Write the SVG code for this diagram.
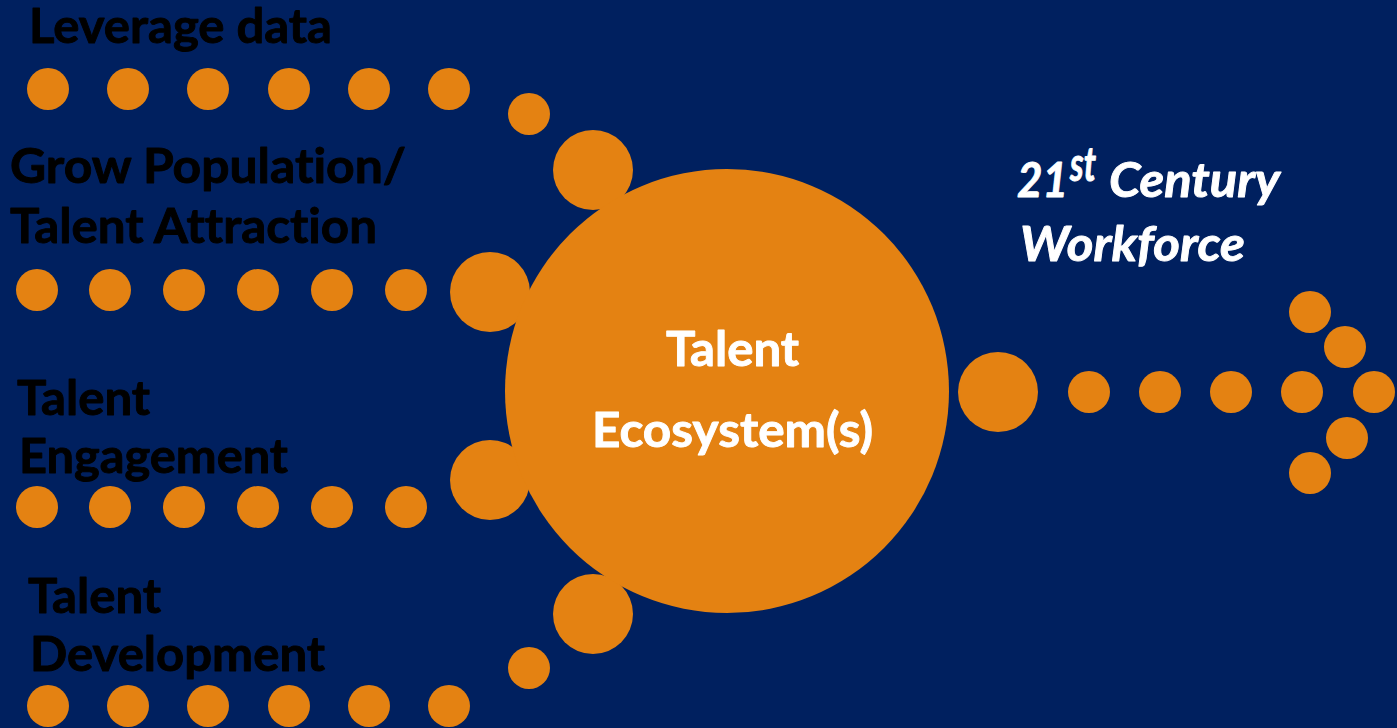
<svg xmlns="http://www.w3.org/2000/svg" width="1397" height="728" viewBox="0 0 1397 728">
  <style>
    .dot { fill: #E48212; }
    text { font-family: Lato, "Liberation Sans", sans-serif; font-weight: 700; font-size: 48px; font-variant-ligatures: none; stroke-width: 0.9px; stroke-linejoin: round; }
    .lbl { fill: #000000; stroke: #000000; }
    .hub { fill: #FFFFFF; stroke: #FFFFFF; }
    .out { font-style: italic; font-size: 47px; fill: #FFFFFF; stroke: #FFFFFF; }
  </style>
  <rect width="1397" height="728" fill="#00205F"/>

  <!-- dotted paths feeding into and out of the hub -->
  <g id="connectors">
    <g id="path-leverage">
      <circle class="dot" cx="48" cy="89" r="21"/>
      <circle class="dot" cx="128" cy="89" r="21"/>
      <circle class="dot" cx="208" cy="89" r="21"/>
      <circle class="dot" cx="289" cy="89" r="21"/>
      <circle class="dot" cx="369" cy="89" r="21"/>
      <circle class="dot" cx="449" cy="89" r="21"/>
      <circle class="dot" cx="529" cy="114" r="21"/>
      <circle class="dot" cx="593" cy="170" r="40"/>
    </g>
    <g id="path-grow">
      <circle class="dot" cx="37" cy="290" r="21"/>
      <circle class="dot" cx="110" cy="290" r="21"/>
      <circle class="dot" cx="184" cy="290" r="21"/>
      <circle class="dot" cx="258" cy="290" r="21"/>
      <circle class="dot" cx="332" cy="290" r="21"/>
      <circle class="dot" cx="406" cy="290" r="21"/>
      <circle class="dot" cx="490" cy="292" r="40"/>
    </g>
    <g id="path-engagement">
      <circle class="dot" cx="37" cy="507" r="21"/>
      <circle class="dot" cx="110" cy="507" r="21"/>
      <circle class="dot" cx="184" cy="507" r="21"/>
      <circle class="dot" cx="258" cy="507" r="21"/>
      <circle class="dot" cx="332" cy="507" r="21"/>
      <circle class="dot" cx="406" cy="507" r="21"/>
      <circle class="dot" cx="490" cy="480" r="40"/>
    </g>
    <g id="path-development">
      <circle class="dot" cx="48" cy="706" r="21"/>
      <circle class="dot" cx="128" cy="706" r="21"/>
      <circle class="dot" cx="208" cy="706" r="21"/>
      <circle class="dot" cx="289" cy="706" r="21"/>
      <circle class="dot" cx="369" cy="706" r="21"/>
      <circle class="dot" cx="449" cy="706" r="21"/>
      <circle class="dot" cx="529" cy="668" r="21"/>
      <circle class="dot" cx="593" cy="614" r="40"/>
    </g>
    <g id="path-output">
      <circle class="dot" cx="998" cy="392" r="40"/>
      <circle class="dot" cx="1089" cy="392" r="21"/>
      <circle class="dot" cx="1160" cy="392" r="21"/>
      <circle class="dot" cx="1231" cy="392" r="21"/>
      <circle class="dot" cx="1302" cy="392" r="21"/>
      <circle class="dot" cx="1374" cy="392" r="21"/>
      <circle class="dot" cx="1310" cy="312" r="21"/>
      <circle class="dot" cx="1345" cy="347" r="21"/>
      <circle class="dot" cx="1347" cy="438" r="21"/>
      <circle class="dot" cx="1310" cy="473" r="21"/>
    </g>
  </g>

  <g id="hub">
    <circle class="dot" cx="727" cy="391" r="222"/>
    <text class="hub" x="666" y="366" textLength="133" lengthAdjust="spacingAndGlyphs">Talent</text>
    <text class="hub" x="592" y="447" textLength="281" lengthAdjust="spacingAndGlyphs">Ecosystem(s)</text>
  </g>

  <g id="leverage-data">
    <text class="lbl" x="29" y="43" textLength="303" lengthAdjust="spacingAndGlyphs">Leverage data</text>
  </g>
  <g id="grow-population">
    <text class="lbl" x="10" y="183" textLength="396" lengthAdjust="spacingAndGlyphs">Grow Population/</text>
    <text class="lbl" x="10" y="243" textLength="367" lengthAdjust="spacingAndGlyphs">Talent Attraction</text>
  </g>
  <g id="talent-engagement">
    <text class="lbl" x="17" y="415" textLength="133" lengthAdjust="spacingAndGlyphs">Talent</text>
    <text class="lbl" x="19" y="473" textLength="269" lengthAdjust="spacingAndGlyphs">Engagement</text>
  </g>
  <g id="talent-development">
    <text class="lbl" x="28" y="613" textLength="133" lengthAdjust="spacingAndGlyphs">Talent</text>
    <text class="lbl" x="30" y="671" textLength="295" lengthAdjust="spacingAndGlyphs">Development</text>
  </g>

  <g id="workforce">
    <text class="out" x="1017" y="197" textLength="51" lengthAdjust="spacingAndGlyphs">21</text>
    <text class="out" x="1070" y="181" font-size="28" textLength="26" lengthAdjust="spacingAndGlyphs">st</text>
    <text class="out" x="1109" y="197" textLength="171" lengthAdjust="spacingAndGlyphs">Century</text>
    <text class="out" x="1020" y="261" textLength="225" lengthAdjust="spacingAndGlyphs">Workforce</text>
  </g>
</svg>
